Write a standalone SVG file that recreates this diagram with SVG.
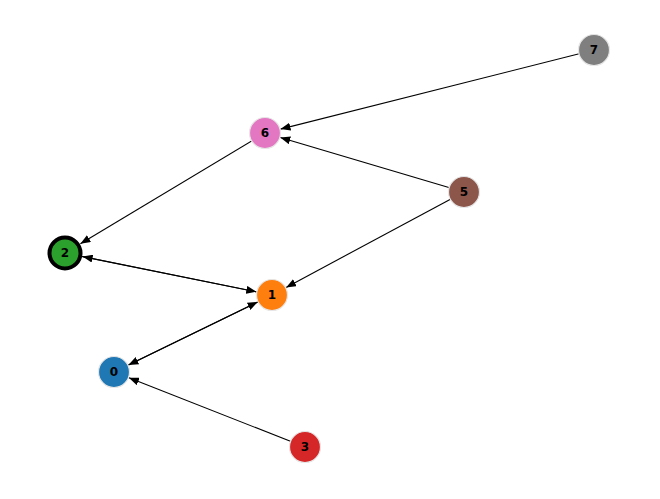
<svg xmlns="http://www.w3.org/2000/svg" width="660" height="499" viewBox="0 0 660 499">
<style>
.e{stroke:#000;stroke-width:1.1;fill:none;marker-end:url(#a)}
.n{stroke:#e6e6e6;stroke-width:1.2}
.t{font-family:"DejaVu Sans",sans-serif;font-size:12px;font-weight:bold;text-anchor:middle;dominant-baseline:central;fill:#000}
</style>
<defs><marker id="a" viewBox="0 0 10 8" refX="10" refY="4" markerWidth="10" markerHeight="8" markerUnits="userSpaceOnUse" orient="auto"><path d="M0,0L10,4L0,8z" fill="#000"/></marker></defs>
<rect width="660" height="499" fill="#fff"/>
<g id="edges">
<line class="e" x1="594" y1="50" x2="280.5" y2="129.1"/>
<line class="e" x1="464" y1="192" x2="280.3" y2="137.5"/>
<line class="e" x1="265" y1="133" x2="80.4" y2="243.7"/>
<line class="e" x1="464" y1="192" x2="286.1" y2="287.4"/>
<line class="e" x1="65" y1="253" x2="256.3" y2="291.8"/>
<line class="e" x1="272" y1="295" x2="82.6" y2="256.6"/>
<line class="e" x1="272" y1="295" x2="128.4" y2="365"/>
<line class="e" x1="114" y1="372" x2="257.6" y2="302"/>
<line class="e" x1="305" y1="447" x2="128.9" y2="377.8"/>
</g>
<g id="n7"><circle class="n" cx="594" cy="50" r="15.5" fill="#7f7f7f"/><text class="t" x="594" y="50">7</text></g>
<g id="n6"><circle class="n" cx="265" cy="133" r="15.5" fill="#e377c2"/><text class="t" x="265" y="133">6</text></g>
<g id="n5"><circle class="n" cx="464" cy="192" r="15.5" fill="#8c564b"/><text class="t" x="464" y="192">5</text></g>
<g id="n2"><circle cx="65" cy="253" r="15.5" fill="#2ca02c" stroke="#000" stroke-width="4"/><text class="t" x="65" y="253">2</text></g>
<g id="n1"><circle class="n" cx="272" cy="295" r="15.5" fill="#ff7f0e"/><text class="t" x="272" y="295">1</text></g>
<g id="n0"><circle class="n" cx="114" cy="372" r="15.5" fill="#1f77b4"/><text class="t" x="114" y="372">0</text></g>
<g id="n3"><circle class="n" cx="305" cy="447" r="15.5" fill="#d62728"/><text class="t" x="305" y="447">3</text></g>
</svg>
